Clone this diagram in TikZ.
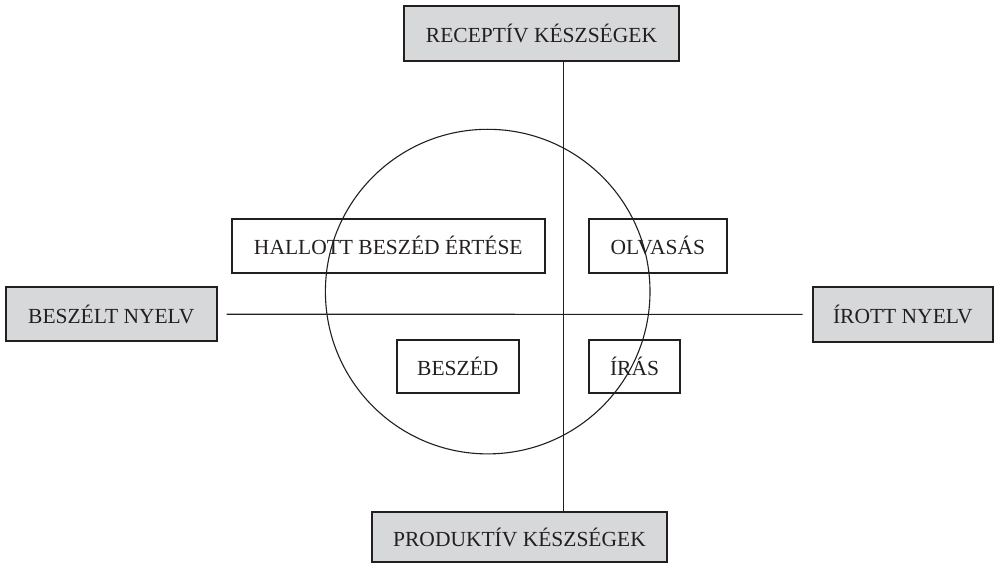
\documentclass[tikz,border=0pt]{standalone}
\usepackage{fontspec}
\setmainfont{Liberation Serif}
\usetikzlibrary{calc}
\definecolor{boxgray}{RGB}{215,216,218}
\definecolor{inkgray}{RGB}{35,31,32}

\begin{document}
\begin{tikzpicture}[x=1pt,y=-1pt,
				every node/.style={font=\fontsize{21.5}{24}\selectfont,text=inkgray},
				block/.style={draw=inkgray,line width=2pt,rectangle,outer sep=0pt,inner sep=0pt},
				graybox/.style={block,fill=boxgray},
				axis/.style={draw=inkgray,line width=1.1pt}]
				\useasboundingbox (0,0) rectangle (994,564);
				\node (REC)    [graybox,minimum width=275pt,minimum height=54.7pt] at (541.5,33.3)  {RECEPTÍV KÉSZSÉGEK};
				\node (PROD)   [graybox,minimum width=295pt,minimum height=50pt]   at (519.5,537)   {PRODUKTÍV KÉSZSÉGEK};
				\node (BESZNY) [graybox,minimum width=210.7pt,minimum height=53.7pt] at (111.3,314.2) {BESZÉLT NYELV};
				\node (IRNY)   [graybox,minimum width=180.3pt,minimum height=54.7pt] at (902.8,314.4) {ÍROTT NYELV};
				\node (HALL)   [block,minimum width=313.3pt,minimum height=53.7pt] at (388.3,245.8) {HALLOTT BESZÉD ÉRTÉSE};
				\node (OLV)    [block,minimum width=137.7pt,minimum height=53.7pt] at (657.8,245.8) {OLVASÁS};
				\node (BESZ)   [block,minimum width=121.7pt,minimum height=53.3pt] at (457.8,366.7) {BESZÉD};
				\node (IRAS)   [block,minimum width=91pt,minimum height=53pt]      at (634.5,366.7) {ÍRÁS};
				\coordinate (VX) at (563.5,0);
				
				\draw[axis] (VX |- REC.south) -- (VX |- PROD.north);
				\draw[axis] ([xshift=10pt]BESZNY.east) -- ([xshift=-10pt]IRNY.west);
				\draw[axis] (487.7,291.6) circle (162.3);
			\end{tikzpicture}
\end{document}
